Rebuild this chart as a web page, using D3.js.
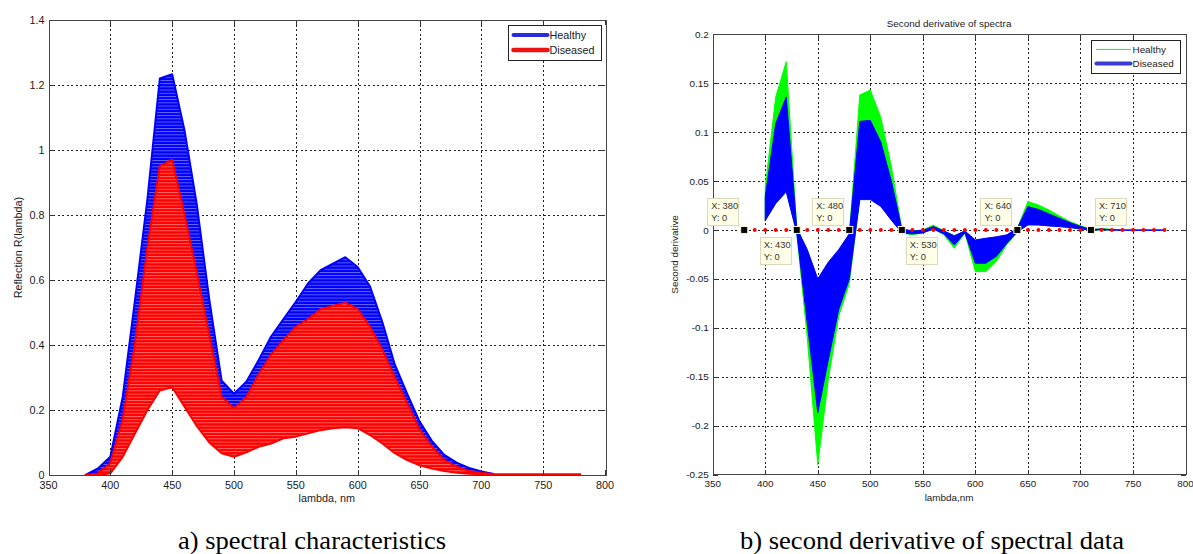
<!DOCTYPE html>
<html>
<head>
<meta charset="utf-8">
<script src="https://cdn.jsdelivr.net/npm/d3@7"></script>
<style>
body { margin: 0; background: #fff; }
text { font-family: Arial, "Liberation Sans", sans-serif; fill: #1a1a1a; }
.caption { font-family: "Liberation Serif", "Times New Roman", serif; fill: #000; }
</style>
</head>
<body>
<svg id="fig" width="1193" height="554"></svg>
<script>
// ---- panel a) spectra, envelopes of the curve families
var lambdaA = [380,390,400,410,420,430,440,450,460,470,480,490,500,510,520,530,540,550,560,570,
               580,590,600,610,620,630,640,650,660,670,680,690,700,710,720,730,740,750,760,770,780];
var healthyHi = [0,0.02,0.056,0.24,0.54,0.85,1.22,1.233,1.06,0.83,0.54,0.29,0.25,0.287,0.354,0.426,0.48,0.533,0.59,0.63,
                 0.65,0.67,0.64,0.58,0.47,0.34,0.25,0.165,0.105,0.062,0.038,0.022,0.011,0.003];
var healthyLo = [0,0.005,0.02,0.1,0.25,0.42,0.58,0.6,0.5,0.38,0.26,0.17,0.13,0.16,0.2,0.24,0.27,0.3,0.32,0.34,
                 0.35,0.36,0.35,0.31,0.25,0.18,0.12,0.08,0.05,0.03,0.018,0.01,0.005,0.002];
var diseasedHi = [0,0.005,0.036,0.17,0.405,0.70,0.95,0.97,0.80,0.62,0.43,0.24,0.205,0.24,0.31,0.37,0.415,0.456,0.48,0.51,
                  0.52,0.53,0.51,0.456,0.385,0.30,0.22,0.14,0.087,0.046,0.026,0.012,0.006,0.003,0.002,0.002,0.002,0.002,0.002,0.002,0.002];
var diseasedLo = [0,0,0.005,0.056,0.128,0.20,0.26,0.27,0.21,0.15,0.10,0.067,0.056,0.07,0.087,0.097,0.113,0.118,0.128,0.138,
                  0.144,0.147,0.144,0.123,0.097,0.067,0.046,0.03,0.02,0.012,0.007,0.004,0.002,0.001,0.001,0.001,0.001,0.001,0.001,0.001,0.001];
var ticksAx = [350,400,450,500,550,600,650,700,750,800];
var ticksAy = [0,0.2,0.4,0.6,0.8,1,1.2,1.4];

// ---- panel b) second derivative
var lambdaB = [400,410,420,430,440,450,460,470,480,490,500,510,520,530,540,550,560,570,580,590,
               600,610,620,630,640,650,660,670,680,690,700,710,720,730,740,750,760,770,780];
var healthyD2Hi = [0.044,0.136,0.172,0.003,-0.022,-0.055,-0.036,-0.022,-0.005,0.138,0.143,0.115,0.065,0.001,-0.001,0,0.005,-0.001,-0.006,-0.001,
                   -0.011,-0.009,-0.008,-0.006,0.002,0.029,0.0256,0.0204,0.0143,0.0085,0.0044,0.0004,0.0012,0.0007];
var healthyD2Lo = [0.01,0.028,0.04,-0.003,-0.11,-0.24,-0.153,-0.088,-0.055,0.032,0.032,0.025,0.011,-0.003,-0.005,-0.003,0.001,-0.005,-0.0187,-0.003,
                   -0.0426,-0.0426,-0.032,-0.015,-0.002,0.0055,0.0055,0.0045,0.0036,0.0026,0.0012,-0.0002,0.0002,0];
var diseasedD2Hi = [0.034,0.109,0.136,0.002,-0.02,-0.05,-0.033,-0.02,-0.004,0.111,0.112,0.09,0.05,0.001,-0.001,-0.0005,0.0034,-0.001,-0.006,-0.001,
                    -0.0102,-0.0085,-0.007,-0.005,0.002,0.0239,0.021,0.0164,0.012,0.0075,0.0037,0.0004,0.001,0.0003,0,0,0,0,0];
var diseasedD2Lo = [0.0095,0.027,0.039,-0.003,-0.095,-0.187,-0.133,-0.081,-0.05,0.031,0.031,0.024,0.01,-0.003,-0.004,-0.003,0.001,-0.004,-0.0153,-0.003,
                    -0.034,-0.034,-0.027,-0.0136,-0.002,0.0051,0.005,0.0041,0.0034,0.0024,0.001,-0.0002,0.0002,-0.0002,-0.0003,-0.0003,-0.0003,-0.0003,-0.0003];
var zeroMarks = [380,390,400,410,420,430,440,450,460,470,480,490,500,510,520,530,540,550,560,570,
                 580,590,600,610,620,630,640,650,660,670,680,690,700,710,720,730,740,750,760,770,780];
var tipLambdas = [380,430,480,530,640,710];
var tipSides = ['upleft','downleft','upleft','downright','upleft','upright'];
var ticksBx = [350,400,450,500,550,600,650,700,750,800];
var ticksBy = [-0.25,-0.2,-0.15,-0.1,-0.05,0,0.05,0.1,0.15,0.2];

var svg = d3.select('#fig');
var defs = svg.append('defs');

// the original bands are made of many thin curves; fake the white gaps with a stripe fill
function stripes(id, color) {
	var p = defs.append('pattern').attr('id', id).attr('patternUnits', 'userSpaceOnUse')
		.attr('width', 8).attr('height', 3.2);
	p.append('rect').attr('width', 8).attr('height', 3.2).attr('fill', color);
	p.append('rect').attr('y', 0).attr('width', 8).attr('height', 0.9).attr('fill', '#fff').attr('fill-opacity', 0.42);
}
stripes('stripeBlue', '#0000ff');
stripes('stripeRed', '#ff0000');

function rows(lambda, lo, hi) {
	return hi.map(function(v, i) { return { l: lambda[i], lo: lo[i], hi: v }; });
}

function drawAxes(g, x, y, xt, yt, fs) {
	var x0 = x.range()[0], x1 = x.range()[1], y0 = y.range()[0], y1 = y.range()[1];

	// dotted grid under the data
	var grid = g.append('g').attr('stroke', '#222').attr('stroke-width', 1)
		.attr('stroke-dasharray', '2,2.5').attr('shape-rendering', 'crispEdges');
	xt.slice(1, -1).forEach(function(t) {
		grid.append('line').attr('x1', Math.round(x(t)) + 0.5).attr('x2', Math.round(x(t)) + 0.5).attr('y1', y1).attr('y2', y0);
	});
	yt.slice(1, -1).forEach(function(t) {
		grid.append('line').attr('y1', Math.round(y(t)) + 0.5).attr('y2', Math.round(y(t)) + 0.5).attr('x1', x0).attr('x2', x1);
	});

	g.append('g').attr('class', 'xlab').selectAll('text').data(xt).join('text')
		.attr('x', function(d) { return x(d); }).attr('y', y0 + fs + 3)
		.attr('text-anchor', 'middle').style('font-size', fs + 'px').text(function(d) { return String(d); });
	g.append('g').attr('class', 'ylab').selectAll('text').data(yt).join('text')
		.attr('x', x0 - 4).attr('y', function(d) { return y(d) + fs * 0.36; })
		.attr('text-anchor', 'end').style('font-size', fs + 'px').text(function(d) { return String(d); });
}

function drawBox(g, x, y, xt, yt) {
	var x0 = x.range()[0], x1 = x.range()[1], y0 = y.range()[0], y1 = y.range()[1];
	var t = g.append('g').attr('stroke', '#333').attr('stroke-width', 1).attr('shape-rendering', 'crispEdges');
	xt.forEach(function(v) {
		var xx = Math.round(x(v)) + 0.5;
		t.append('line').attr('x1', xx).attr('x2', xx).attr('y1', y0).attr('y2', y0 - 5);
		t.append('line').attr('x1', xx).attr('x2', xx).attr('y1', y1).attr('y2', y1 + 5);
	});
	yt.forEach(function(v) {
		var yy = Math.round(y(v)) + 0.5;
		t.append('line').attr('y1', yy).attr('y2', yy).attr('x1', x0).attr('x2', x0 + 5);
		t.append('line').attr('y1', yy).attr('y2', yy).attr('x1', x1).attr('x2', x1 - 5);
	});
	g.append('rect').attr('x', Math.round(x0) + 0.5).attr('y', Math.round(y1) + 0.5)
		.attr('width', Math.round(x1 - x0)).attr('height', Math.round(y0 - y1))
		.attr('fill', 'none').attr('stroke', '#444').attr('stroke-width', 1).attr('shape-rendering', 'crispEdges');
}

function drawBand(g, x, y, data, color, fill, edge) {
	var area = d3.area().x(function(d) { return x(d.l); })
		.y0(function(d) { return y(d.lo); }).y1(function(d) { return y(d.hi); });
	g.append('path').datum(data).attr('d', area)
		.attr('fill', fill || color).attr('stroke', color).attr('stroke-width', edge || 1).attr('stroke-linejoin', 'round');
}

function legend(g, bx, by, bw, bh, items, fs) {
	g.append('rect').attr('x', bx).attr('y', by).attr('width', bw).attr('height', bh)
		.attr('fill', '#fff').attr('stroke', '#222').attr('stroke-width', 1).attr('shape-rendering', 'crispEdges');
	items.forEach(function(it, i) {
		var yy = by + bh * (i === 0 ? 0.27 : 0.7);
		g.append('line').attr('x1', bx + 5).attr('x2', bx + 39).attr('y1', yy).attr('y2', yy)
			.attr('stroke', it.color).attr('stroke-width', it.width).attr('stroke-linecap', 'round');
		g.append('text').attr('x', bx + 41).attr('y', yy + fs * 0.36).style('font-size', fs + 'px').text(it.name);
	});
}

// ---------------- panel a ----------------
var xA = d3.scaleLinear().domain([350, 800]).range([48.5, 605]);
var yA = d3.scaleLinear().domain([0, 1.4]).range([475, 20]);
var gA = svg.append('g');
svg.append('clipPath').attr('id', 'clipA').append('rect').attr('x', 48.5).attr('y', 20).attr('width', 556.5).attr('height', 455);

drawAxes(gA, xA, yA, ticksAx, ticksAy, 10.8);
var plotA = gA.append('g').attr('clip-path', 'url(#clipA)');
drawBand(plotA, xA, yA, rows(lambdaA, healthyLo, healthyHi), '#0000ff', 'url(#stripeBlue)', 2);
drawBand(plotA, xA, yA, rows(lambdaA, diseasedLo, diseasedHi), '#ff0000', 'url(#stripeRed)', 2);
drawBox(gA, xA, yA, ticksAx, ticksAy);
legend(gA, 508.5, 25.5, 93, 35, [{ name: 'Healthy', color: '#2b2bdd', width: 4 }, { name: 'Diseased', color: '#ee1111', width: 4.5 }], 10.8);

gA.append('text').attr('x', (48.5 + 605) / 2).attr('y', 502).attr('text-anchor', 'middle').style('font-size', '10.8px').text('lambda, nm');
gA.append('text').attr('transform', 'translate(22,' + (20 + 475) / 2 + ') rotate(-90)')
	.attr('text-anchor', 'middle').style('font-size', '10.8px').text('Reflection R(lambda)');

// ---------------- panel b ----------------
var xB = d3.scaleLinear().domain([350, 800]).range([712.7, 1185.5]);
var yB = d3.scaleLinear().domain([-0.25, 0.2]).range([474.5, 34.3]);
var gB = svg.append('g');
svg.append('clipPath').attr('id', 'clipB').append('rect').attr('x', 712.7).attr('y', 34.3).attr('width', 472.8).attr('height', 440.2);

drawAxes(gB, xB, yB, ticksBx, ticksBy, 9.9);
var plotB = gB.append('g').attr('clip-path', 'url(#clipB)');
drawBand(plotB, xB, yB, rows(lambdaB, healthyD2Lo, healthyD2Hi), '#00ff00');
drawBand(plotB, xB, yB, rows(lambdaB, diseasedD2Lo, diseasedD2Hi), '#0000ff');

// zero reference series with markers
plotB.append('g').selectAll('circle').data(zeroMarks).join('circle')
	.attr('cx', function(d) { return xB(d); }).attr('cy', yB(0)).attr('r', 2).attr('fill', '#ff0000');

drawBox(gB, xB, yB, ticksBx, ticksBy);

// data tips
var tips = gB.append('g');
tipLambdas.forEach(function(l, i) {
	var px = xB(l), py = yB(0), w = 31, h = 27;
	var side = tipSides[i];
	var bx = side.indexOf('left') >= 0 ? px - w - 6 : px + 4;
	var by = side.indexOf('up') === 0 ? py - h - 5 : py + 7;
	tips.append('rect').attr('x', Math.round(bx) + 0.5).attr('y', Math.round(by) + 0.5).attr('width', w).attr('height', h)
		.attr('fill', '#ffffe8').attr('stroke', '#dcd8bc').attr('stroke-width', 1);
	tips.append('text').attr('x', bx + 4).attr('y', by + 11).style('font-size', '9.3px').style('fill', '#333').text('X: ' + l);
	tips.append('text').attr('x', bx + 4).attr('y', by + 23).style('font-size', '9.3px').style('fill', '#333').text('Y: 0');
	tips.append('rect').attr('x', px - 3.5).attr('y', py - 3.5).attr('width', 7).attr('height', 7)
		.attr('fill', '#000').attr('stroke', '#fff8d0').attr('stroke-width', 1);
});

legend(gB, 1091.5, 40.5, 89, 33, [{ name: 'Healthy', color: '#00ff00', width: 1 }, { name: 'Diseased', color: '#3a3ad6', width: 4 }], 9.9);

gB.append('text').attr('x', (712.7 + 1185.5) / 2).attr('y', 27).attr('text-anchor', 'middle').style('font-size', '9.9px').text('Second derivative of spectra');
gB.append('text').attr('x', (712.7 + 1185.5) / 2).attr('y', 501).attr('text-anchor', 'middle').style('font-size', '9.9px').text('lambda,nm');
gB.append('text').attr('transform', 'translate(678,' + (34.3 + 474.5) / 2 + ') rotate(-90)')
	.attr('text-anchor', 'middle').style('font-size', '9.9px').text('Second derivative');

// captions
svg.append('text').attr('class', 'caption').attr('x', 312).attr('y', 549).attr('text-anchor', 'middle')
	.attr('textLength', 268).attr('lengthAdjust', 'spacingAndGlyphs').style('font-size', '25px').text('a) spectral characteristics');
svg.append('text').attr('class', 'caption').attr('x', 932).attr('y', 549).attr('text-anchor', 'middle')
	.attr('textLength', 384).attr('lengthAdjust', 'spacingAndGlyphs').style('font-size', '25px').text('b) second derivative of spectral data');
</script>
</body>
</html>
